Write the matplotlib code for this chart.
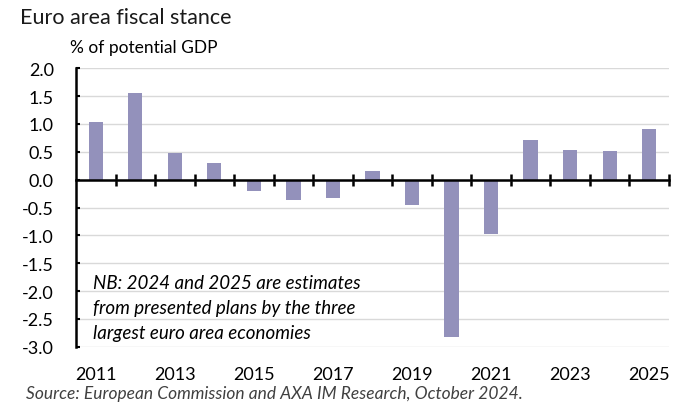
import matplotlib.pyplot as plt
from matplotlib.ticker import FixedLocator, MultipleLocator

# data
years = [2011, 2012, 2013, 2014, 2015, 2016, 2017, 2018,
         2019, 2020, 2021, 2022, 2023, 2024, 2025]
stance = [1.04, 1.55, 0.47, 0.30, -0.20, -0.37, -0.33, 0.15,
          -0.46, -2.82, -0.98, 0.72, 0.54, 0.51, 0.91]
label_years = [2011, 2013, 2015, 2017, 2019, 2021, 2023, 2025]

title = "Euro area fiscal stance"
unit = "% of potential GDP"
note = ("NB: 2024 and 2025 are estimates\n"
        "from presented plans by the three\n"
        "largest euro area economies")
source = "Source: European Commission and AXA IM Research, October 2024."

plt.rcParams['font.family'] = ['Lato', 'DejaVu Sans']

fig = plt.figure(figsize=(6.82, 4.06), dpi=100)
ax = fig.add_axes([0.1114, 0.1436, 0.8695, 0.6857])

x = list(range(len(years)))
ax.bar(x, stance, width=0.36, color='#9391BB', zorder=2)

ax.set_xlim(-0.5, len(years) - 0.5)
ax.set_ylim(-3.0, 2.0)

# grid and spines
ax.yaxis.set_major_locator(MultipleLocator(0.5))
ax.yaxis.set_major_formatter(lambda v, p: f"{v:.1f}")
ax.grid(axis='y', color='#D9D9D9', linewidth=1.0, zorder=0)
ax.set_axisbelow(True)
for s in ['top', 'right']:
    ax.spines[s].set_visible(False)
ax.spines['left'].set_linewidth(1.8)
ax.spines['bottom'].set_position(('data', 0))
ax.spines['bottom'].set_linewidth(1.8)
ax.spines['bottom'].set_zorder(3)

ax.tick_params(axis='y', direction='in', length=3, width=1.5,
               labelsize=13, pad=16, colors='black')
ax.xaxis.set_major_locator(FixedLocator([i + 0.5 for i in x]))
ax.tick_params(axis='x', direction='inout', length=9, width=1.8,
               labelbottom=False)

# year labels at the bottom of the plot
sec = ax.secondary_xaxis('bottom')
sec.set_xticks([years.index(y) for y in label_years],
               [str(y) for y in label_years])
sec.spines['bottom'].set_visible(False)
sec.tick_params(length=0, labelsize=13, pad=14)

fig.text(0.029, 0.955, title, fontsize=15.5, color='#1a1a1a', va='center')
fig.text(0.103, 0.883, unit, fontsize=12.5, va='center')
ax.text(0.029, 0.26, note, transform=ax.transAxes, fontsize=13.5,
        style='italic', va='top', linespacing=1.55)
fig.text(0.038, 0.03, source, fontsize=12.5, style='italic',
         color='#404040', va='center')

fig.savefig('out.png', dpi=100)
